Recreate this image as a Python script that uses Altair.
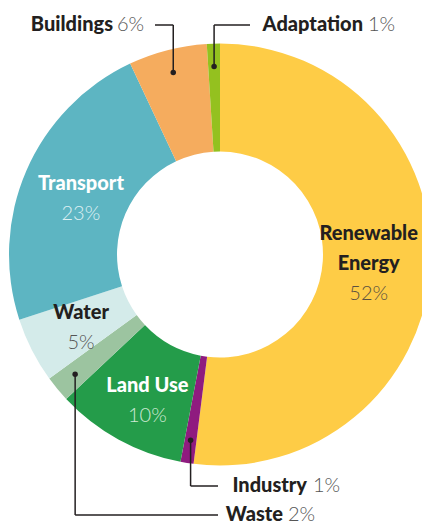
import math
import altair as alt
import pandas as pd

# ---- data ----
categories = ["Renewable Energy", "Industry", "Land Use", "Waste", "Water", "Transport", "Buildings", "Adaptation"]
shares = [52, 1, 10, 2, 5, 23, 6, 1]
colors = ["#FECC46", "#8F1B7F", "#249C4A", "#9CC4A0", "#D4EBEA", "#5DB5C2", "#F5AC5E", "#94C11F"]
name_lines = {
    "Renewable Energy": ["Renewable", "Energy"],
    "Transport": ["Transport"],
    "Land Use": ["Land Use"],
    "Water": ["Water"],
}
outside = ["Industry", "Waste", "Buildings", "Adaptation"]

# ---- layout ----
W, H = 414, 516
CX, CY = 212, 246.5
R_OUT, R_IN = 211, 103
R_LABEL = 157
R_DOT = 188
LINE_GAP = 30
FONT = "Lato"
FS = 20
# inner label fine nudges (dx, dy)
nudge = {"Renewable Energy": (-8, 0), "Transport": (5, 7), "Land Use": (3, 9), "Water": (1, 2)}
# outside label layout: label y, leader end x, name right edge x, pct left x (plot coords)
out_layout = {
    "Buildings": dict(y=17, end=147, name_r=105, pct_l=109),
    "Adaptation": dict(y=17, end=242, name_r=355, pct_l=360),
    "Industry": dict(y=478, end=210, name_r=299, pct_l=305),
    "Waste": dict(y=507, end=210, name_r=275, pct_l=280),
}
name_color = {"Renewable Energy": "#231F20", "Transport": "#FFFFFF", "Land Use": "#FFFFFF", "Water": "#231F20"}
pct_color = {"Renewable Energy": "#5A5040", "Transport": "#DDF0F3", "Land Use": "#CDE9D3", "Water": "#555555"}

total = sum(shares)
mids = {}
cum = 0
for c, v in zip(categories, shares):
    mids[c] = (cum + v / 2) / total * 2 * math.pi
    cum += v

df = pd.DataFrame({"cat": categories, "share": shares, "idx": list(range(len(categories)))})

arcs = alt.Chart(df).mark_arc(outerRadius=R_OUT, innerRadius=R_IN).encode(
    theta=alt.Theta("share:Q", stack=True),
    order=alt.Order("idx:Q", sort="ascending"),
    color=alt.Color("cat:N", scale=alt.Scale(domain=categories, range=colors), legend=None),
    x=alt.value(CX),
    y=alt.value(CY),
)

# inner labels
rows_name, rows_pct = [], []
for c, v in zip(categories, shares):
    if c not in name_lines:
        continue
    a = mids[c]
    ax = CX + R_LABEL * math.sin(a) + nudge[c][0]
    ay = CY - R_LABEL * math.cos(a) + nudge[c][1]
    lines = name_lines[c]
    n = len(lines) + 1
    top = ay - (n - 1) * LINE_GAP / 2
    for i, t in enumerate(lines):
        rows_name.append(dict(x=ax, y=top + i * LINE_GAP, t=t, col=name_color[c]))
    rows_pct.append(dict(x=ax, y=top + len(lines) * LINE_GAP, t=f"{v}%", col=pct_color[c]))

inner_names = alt.Chart(pd.DataFrame(rows_name)).mark_text(
    font=FONT, fontSize=FS, fontWeight=900, align="center", baseline="middle"
).encode(x=alt.X("x:Q", scale=None), y=alt.Y("y:Q", scale=None), text="t:N", color=alt.Color("col:N", scale=None))
inner_pcts = alt.Chart(pd.DataFrame(rows_pct)).mark_text(
    font=FONT, fontSize=FS, fontWeight=300, align="center", baseline="middle"
).encode(x=alt.X("x:Q", scale=None), y=alt.Y("y:Q", scale=None), text="t:N", color=alt.Color("col:N", scale=None))

# outside labels with leaders
dots, segs, onames, opcts = [], [], [], []
for c, v in zip(categories, shares):
    if c not in outside:
        continue
    a = mids[c]
    dx = CX + R_DOT * math.sin(a)
    dy = CY - R_DOT * math.cos(a)
    L = out_layout[c]
    dots.append(dict(x=dx, y=dy))
    segs.append(dict(x=dx, y=dy, x2=dx, y2=L["y"]))
    segs.append(dict(x=dx, y=L["y"], x2=L["end"], y2=L["y"]))
    onames.append(dict(x=L["name_r"], y=L["y"], t=c))
    opcts.append(dict(x=L["pct_l"], y=L["y"], t=f"{v}%"))

leaders = alt.Chart(pd.DataFrame(segs)).mark_rule(color="#231F20", strokeWidth=1.5).encode(
    x=alt.X("x:Q", scale=None), y=alt.Y("y:Q", scale=None),
    x2="x2:Q", y2="y2:Q",
)
dot_layer = alt.Chart(pd.DataFrame(dots)).mark_circle(color="#231F20", size=30, opacity=1).encode(
    x=alt.X("x:Q", scale=None), y=alt.Y("y:Q", scale=None)
)
out_names = alt.Chart(pd.DataFrame(onames)).mark_text(
    font=FONT, fontSize=FS, fontWeight=900, align="right", baseline="middle", color="#231F20"
).encode(x=alt.X("x:Q", scale=None), y=alt.Y("y:Q", scale=None), text="t:N")
out_pcts = alt.Chart(pd.DataFrame(opcts)).mark_text(
    font=FONT, fontSize=FS, fontWeight=300, align="left", baseline="middle", color="#555555"
).encode(x=alt.X("x:Q", scale=None), y=alt.Y("y:Q", scale=None), text="t:N")

chart = alt.layer(arcs, leaders, dot_layer, inner_names, inner_pcts, out_names, out_pcts).properties(
    width=W, height=H, padding=0, autosize=alt.AutoSizeParams(type="none"), background="white"
).configure_view(stroke=None)

chart.save("out.html", embed_options={"renderer": "svg", "actions": False})
